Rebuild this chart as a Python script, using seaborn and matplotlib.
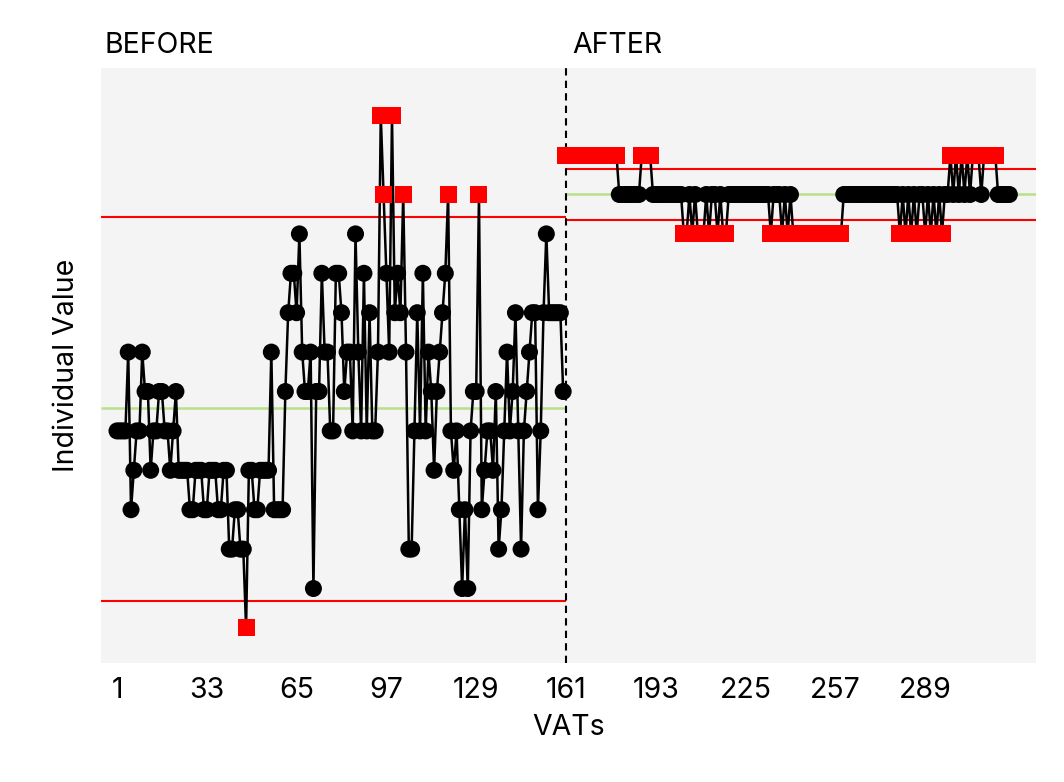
import numpy as np
import pandas as pd
import matplotlib.pyplot as plt
import seaborn as sns

# individual values (discrete levels)
before_values = [
    5, 5, 5, 5, 7, 3, 4, 5, 5, 7, 6, 6, 4, 5, 5, 6, 6, 5, 5, 4,
    5, 6, 4, 4, 4, 4, 3, 3, 4, 4, 4, 3, 3, 4, 4, 4, 3, 3, 4, 4,
    2, 2, 3, 3, 2, 2, 0, 4, 4, 3, 3, 4, 4,
    4, 4, 7, 3, 3, 3, 3, 6, 8, 9, 9, 8, 10, 7, 6, 6, 7, 1, 6, 6,
    9, 7, 7, 5, 5, 9, 9, 8, 6, 7,
    7, 5, 10, 7, 5, 9, 5, 8, 5, 5, 7, 13, 11, 9, 7, 13, 8, 9, 8, 11,
    7, 2, 2, 5, 8, 5, 9,
    5, 7, 6, 4, 6, 7, 8, 9, 11, 5, 4, 5, 3, 1, 3, 1, 5, 6, 6, 11,
    3, 4, 5, 5, 4, 6, 2, 3, 5, 7, 5, 6, 8, 5, 2, 5, 6, 7, 8, 8,
    3, 5, 8, 10, 8, 8, 8, 8, 8, 6,
]
after_values = (
    [12] * 19 + [11] * 8 + [12] * 4 + [11] * 11
    + [10, 10, 11, 10, 11, 10, 10, 10, 11, 10, 11, 11, 10, 11, 10, 10]
    + [11] * 15 + [10] + [11] * 3 + [10, 11, 10, 11, 10]
    + [10] * 17 + [11] * 20
    + [10, 11, 10, 11, 10, 11, 10, 11, 11, 10, 11, 10, 11, 10, 11, 10, 11]
    + [11, 12, 11, 12, 11, 12, 11, 12, 11, 12, 12, 12, 11, 12, 12, 12, 12, 12]
    + [11] * 5
)

phase_start = 161
before_limits = (0.69, 5.58, 10.43)   # LCL, CL, UCL
after_limits = (10.36, 11.0, 11.64)
tick_values = [1, 33, 65, 97, 129, 161, 193, 225, 257, 289]

n_before = len(before_values)
df = pd.DataFrame({
    "VAT": np.arange(1, n_before + len(after_values) + 1),
    "value": before_values + after_values,
    "phase": ["BEFORE"] * n_before + ["AFTER"] * len(after_values),
})
limits = {"BEFORE": before_limits, "AFTER": after_limits}
df["status"] = [
    "out" if (v < limits[p][0] or v > limits[p][2]) else "in"
    for v, p in zip(df["value"], df["phase"])
]

sns.set_style("white", {"axes.facecolor": "#f4f4f4"})
plt.rcParams["font.family"] = ["Inter", "DejaVu Sans"]
plt.rcParams["text.color"] = "black"
plt.rcParams["axes.labelcolor"] = "black"
plt.rcParams["xtick.color"] = "black"

fig = plt.figure(figsize=(10.64, 7.82), dpi=100)
ax = fig.add_axes([101 / 1064, 1 - 663 / 782, 935 / 1064, 595 / 782])

xmin, xmax = -4.7, 328.5
spans = {"BEFORE": (xmin, phase_start), "AFTER": (phase_start, xmax)}
for phase, (x0, x1) in spans.items():
    lcl, cl, ucl = limits[phase]
    ax.hlines([lcl, ucl], x0, x1, colors="#ff0000", lw=1.5, zorder=1)
    ax.hlines(cl, x0, x1, colors="#b8e08a", lw=1.8, zorder=1)

ax.axvline(phase_start, color="black", ls=(0, (3.5, 2.5)), lw=1.5, zorder=1.5)

sns.lineplot(data=df, x="VAT", y="value", units="phase", estimator=None,
             sort=False, color="black", lw=1.8, ax=ax, zorder=2)
sns.scatterplot(data=df, x="VAT", y="value", hue="status", style="status",
                palette={"in": "black", "out": "#ff0000"},
                markers={"in": "o", "out": "s"}, s=150, linewidth=0,
                legend=False, ax=ax, zorder=3)

ax.set_xlim(xmin, xmax)
ax.set_ylim(-0.89, 14.21)
ax.set_xticks(tick_values)
ax.set_yticks([])
ax.tick_params(axis="x", length=0, pad=10, labelsize=20.5)
for s in ax.spines.values():
    s.set_visible(False)

ax.set_xlabel("VATs", fontsize=20.5, labelpad=7)
ax.set_ylabel("Individual Value", fontsize=20.5, labelpad=15)

ax.text(0.004, 1.025, "BEFORE", transform=ax.transAxes, fontsize=20.5,
        ha="left", va="baseline")
ax.text(0.504, 1.025, "AFTER", transform=ax.transAxes, fontsize=20.5,
        ha="left", va="baseline")

fig.savefig("out.png", dpi=100)
